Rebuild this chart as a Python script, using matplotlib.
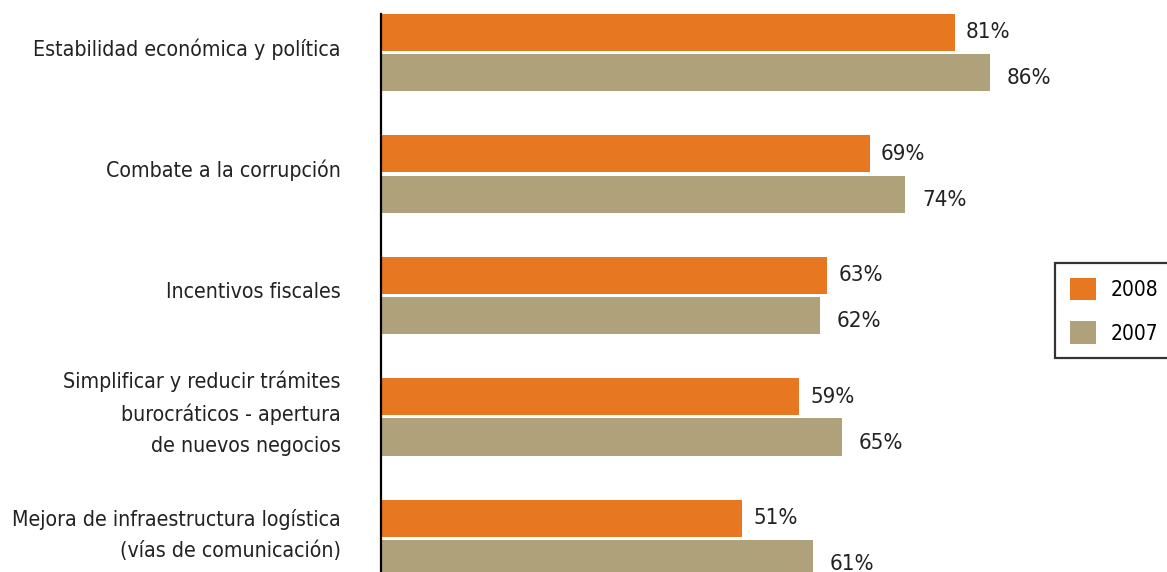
import matplotlib.pyplot as plt
from matplotlib.patches import Patch

plt.rcParams['font.family'] = ['DejaVu Sans']
plt.rcParams['font.stretch'] = 'condensed'

# data
categorias = ["Estabilidad económica y política",
              "Combate a la corrupción",
              "Incentivos fiscales",
              "Simplificar y reducir trámites\nburocráticos - apertura\nde nuevos negocios",
              "Mejora de infraestructura logística\n(vías de comunicación)"]
v2008 = [81, 69, 63, 59, 51]
v2007 = [86, 74, 62, 65, 61]
series = ["2008", "2007"]

c2008 = "#E87722"
c2007 = "#AFA27A"

W, H = 1167, 572
fig = plt.figure(figsize=(W / 100, H / 100), dpi=100)
# axes placed in pixel terms: left edge at x=381, top at y=14
ax = fig.add_axes([381 / W, 0, 708.6 / W, 558 / H])

pos = list(range(len(categorias)))
off = 0.165
h = 0.305
ax.barh([p - off for p in pos], v2008, height=h, color=c2008)
ax.barh([p + off for p in pos], v2007, height=h, color=c2007)

fs = 16
for p, v in zip(pos, v2008):
    ax.annotate(f"{v}%", (v, p - off), xytext=(8, 0), textcoords="offset points",
                va="center", ha="left", fontsize=fs, color="#222222")
for p, v in zip(pos, v2007):
    ax.annotate(f"{v}%", (v, p + off), xytext=(12, -4), textcoords="offset points",
                va="center", ha="left", fontsize=fs, color="#222222")

ax.set_xlim(0, 100)
ax.set_ylim(4.276, -0.317)
ax.set_yticks([p - 0.03 for p in pos])
ax.set_yticklabels(categorias, fontsize=15.3, color="#222222", linespacing=1.65)
for t in ax.get_yticklabels():
    t.set_va("center")
ax.tick_params(axis="y", length=0, pad=29)
ax.set_xticks([])
for s in ["top", "right", "bottom"]:
    ax.spines[s].set_visible(False)
ax.spines["left"].set_linewidth(1.6)
ax.spines["left"].set_color("black")

handles = [Patch(facecolor=c2008), Patch(facecolor=c2007)]
leg = fig.legend(handles, series, loc="upper left", bbox_to_anchor=(1055 / W, 1 - 263 / H),
                 fontsize=15, frameon=True, fancybox=False, handlelength=1.25,
                 handleheight=1.25, handletextpad=0.7, borderpad=0.7, labelspacing=1.05,
                 borderaxespad=0)
leg.get_frame().set_edgecolor("black")
leg.get_frame().set_linewidth(1.6)

fig.savefig("out.png", dpi=100)
